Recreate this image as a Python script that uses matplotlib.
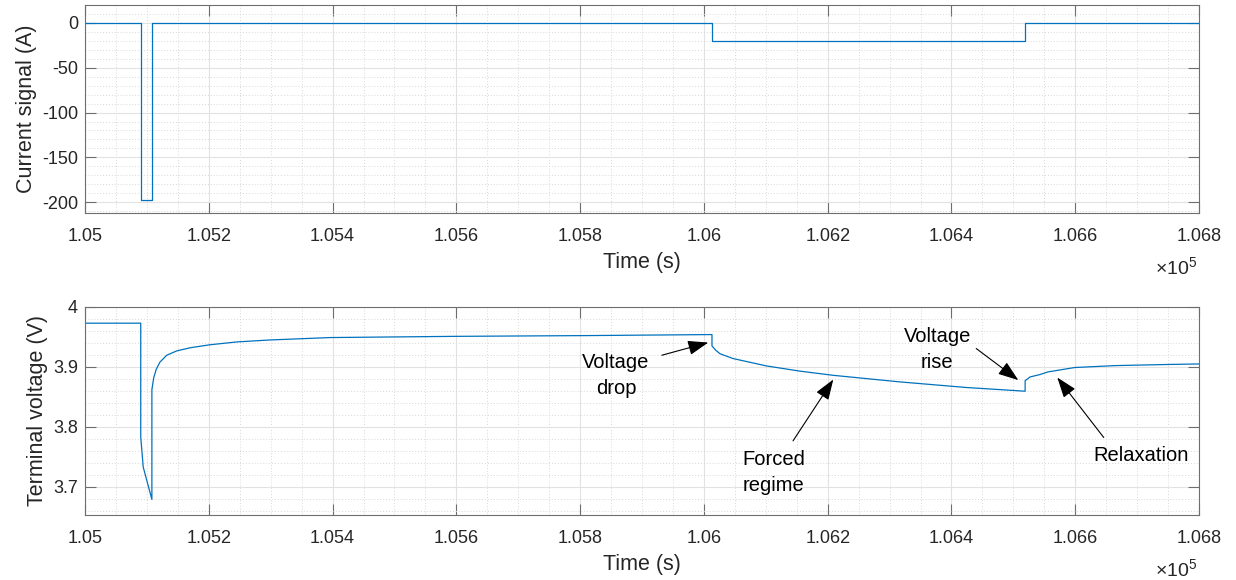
import matplotlib
matplotlib.use("Agg")
import matplotlib.pyplot as plt
from matplotlib.ticker import MultipleLocator
import numpy as np

plt.rcParams['font.family'] = ['Liberation Sans', 'DejaVu Sans']
plt.rcParams['mathtext.fontset'] = 'custom'
plt.rcParams['mathtext.rm'] = 'Liberation Sans'
plt.rcParams['axes.unicode_minus'] = False

# current profile (step breakpoints, held until next time)
t_cur = [105000, 105090, 105108, 106013, 106519, 106800]
i_cur = [0, -198, 0, -20, 0, 0]

# terminal voltage response
t_volt = [105000, 105090, 105090, 105094, 105108, 105108, 105111, 105115, 105121, 105132,
          105148, 105170, 105202, 105245, 105299, 105396, 105595, 105811, 106013,
          106013, 106019, 106026, 106047, 106101, 106155, 106209, 106317, 106424, 106519,
          106519, 106527, 106543, 106556, 106599, 106664, 106745, 106800]
v_volt = [3.973, 3.973, 3.783, 3.733, 3.679, 3.862, 3.882, 3.896, 3.908, 3.9195,
          3.9267, 3.932, 3.937, 3.9417, 3.945, 3.949, 3.951, 3.9523, 3.954,
          3.935, 3.928, 3.922, 3.914, 3.9017, 3.893, 3.886, 3.875, 3.8657, 3.8595,
          3.877, 3.8833, 3.8873, 3.8917, 3.899, 3.9022, 3.904, 3.905]

x_ticks = [105000, 105200, 105400, 105600, 105800, 106000, 106200, 106400, 106600, 106800]
x_ticklabels = ['1.05', '1.052', '1.054', '1.056', '1.058', '1.06', '1.062', '1.064', '1.066', '1.068']
cur_ticks = [-200, -150, -100, -50, 0]
volt_ticks = [3.7, 3.8, 3.9, 4.0]
volt_ticklabels = ['3.7', '3.8', '3.9', '4']

# label text, text centre, arrow tail, arrow tip
notes = [
    ('Voltage\ndrop', (105858, 3.8853), (105932, 3.9195), (106007, 3.9407)),
    ('Forced\nregime', (106113, 3.7245), (106144, 3.7767), (106209, 3.879)),
    ('Voltage\nrise', (106377, 3.9295), (106440, 3.9307), (106508, 3.878)),
    ('Relaxation', (106706, 3.7528), (106646, 3.7823), (106571, 3.8823)),
]

line_col = '#0072BD'
axis_col = '#6e6e6e'
txt_col = '#262626'

fig = plt.figure(figsize=(12.36, 5.8), dpi=100)
ax1 = fig.add_axes([0.0688, 0.6328, 0.9013, 0.3586])
ax2 = fig.add_axes([0.0688, 0.1121, 0.9013, 0.3586])


def style(ax):
    ax.set_xlim(105000, 106800)
    ax.set_xticks(x_ticks)
    ax.set_xticklabels(x_ticklabels)
    ax.xaxis.set_minor_locator(MultipleLocator(50))
    ax.grid(True, which='major', color='#e2e2e2', lw=0.8, ls='-')
    ax.grid(True, which='minor', color='#d8d8d8', lw=0.7, ls=(0, (1, 2)))
    ax.set_axisbelow(True)
    ax.tick_params(which='major', direction='in', length=8, width=0.8, color=axis_col,
                   top=True, right=True, labelsize=13, labelcolor=txt_col)
    ax.tick_params(axis='x', which='major', pad=11)
    ax.tick_params(axis='y', which='major', pad=5)
    ax.tick_params(which='minor', length=0, top=True, right=True)
    for s in ax.spines.values():
        s.set_color(axis_col)
        s.set_linewidth(0.8)
    ax.set_xlabel('Time (s)', fontsize=15.5, color=txt_col)
    ax.xaxis.set_label_coords(0.5, -0.19)
    ax.text(0.998, -0.262, r'$\times10^{5}$', transform=ax.transAxes, ha='right',
            va='center', fontsize=14, color=txt_col)


style(ax1)
ax1.plot(t_cur, i_cur, drawstyle='steps-post', color=line_col, lw=0.9)
ax1.set_ylim(-212, 20)
ax1.set_yticks(cur_ticks)
ax1.yaxis.set_minor_locator(MultipleLocator(10))
ax1.set_ylabel('Current signal (A)', fontsize=15.5, color=txt_col)
ax1.yaxis.set_label_coords(-0.043, 0.5)

style(ax2)
ax2.plot(t_volt, v_volt, color=line_col, lw=0.9)
ax2.set_ylim(3.653, 4.0)
ax2.set_yticks(volt_ticks)
ax2.set_yticklabels(volt_ticklabels)
ax2.yaxis.set_minor_locator(MultipleLocator(0.02))
ax2.set_ylabel('Terminal voltage (V)', fontsize=15.5, color=txt_col)
ax2.yaxis.set_label_coords(-0.033, 0.5)

for label, pos, tail, tip in notes:
    ax2.annotate('', xy=tip, xytext=tail,
                 arrowprops=dict(arrowstyle='-|>,head_length=0.7,head_width=0.25',
                                 color='black', lw=0.8,
                                 mutation_scale=18, shrinkA=0, shrinkB=0))
    ax2.text(pos[0], pos[1], label, ha='center', va='center', fontsize=14.5,
             linespacing=1.45, color='black')

fig.savefig('out.png', dpi=100)
